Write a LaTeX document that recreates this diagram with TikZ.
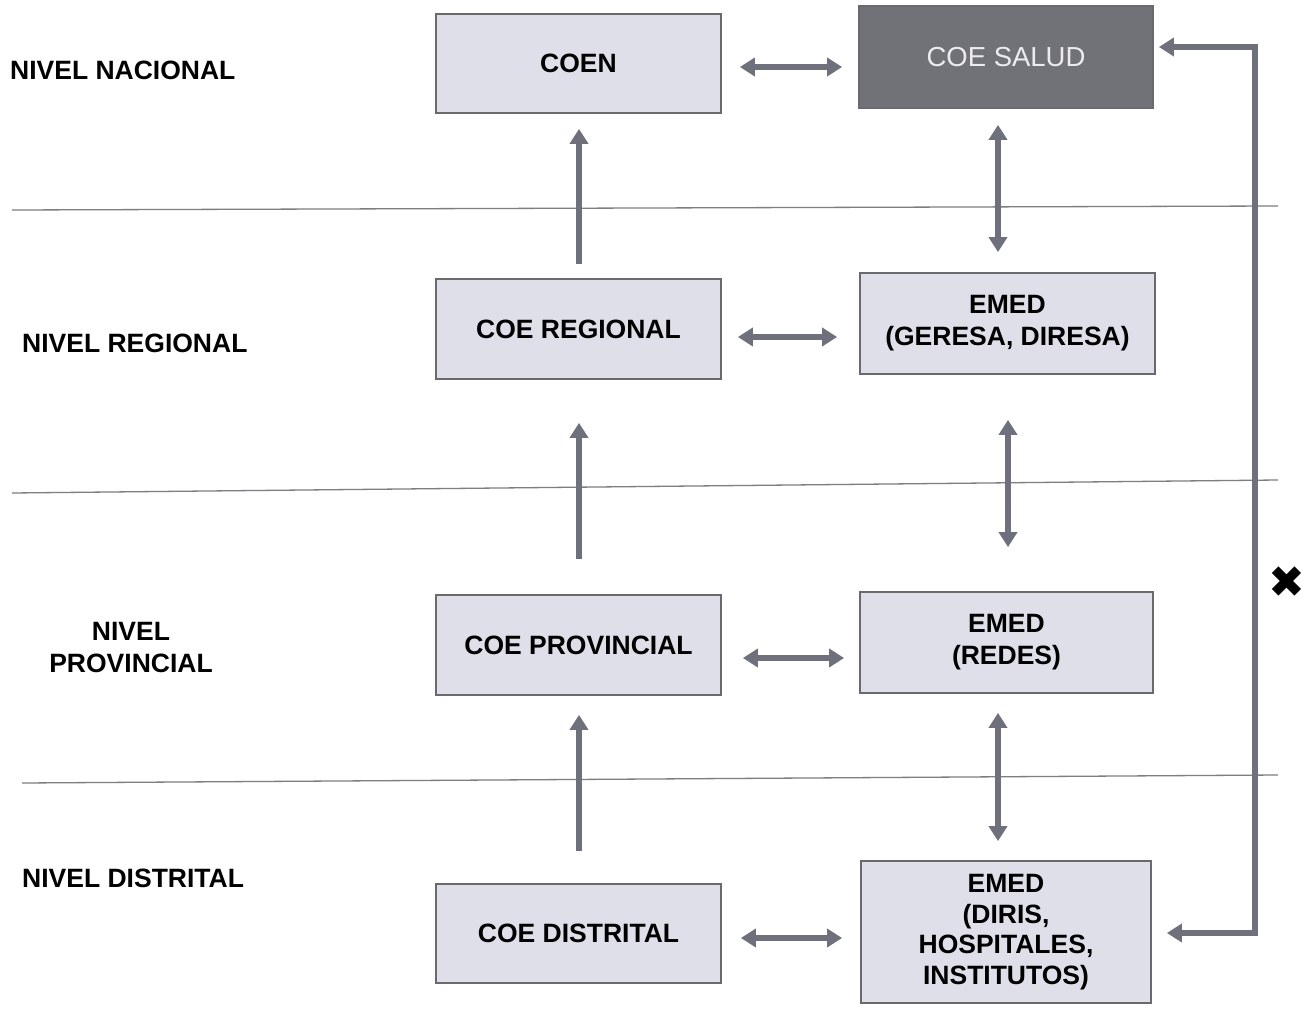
\documentclass[tikz,border=0pt]{standalone}
\usepackage{fontspec}
\setmainfont{Liberation Sans}
\newfontfamily\symfont{DejaVu Sans}
\usetikzlibrary{arrows.meta}
\definecolor{boxfill}{RGB}{222,223,232}
\definecolor{boxedge}{RGB}{105,105,110}
\definecolor{saludfill}{RGB}{112,114,120}
\definecolor{saludtext}{RGB}{236,236,238}
\definecolor{arrowcol}{RGB}{110,113,124}
\definecolor{sepcol}{RGB}{125,125,130}
\begin{document}
\begin{tikzpicture}[x=1pt,y=-1pt,
  box/.style={draw=boxedge, line width=1.8pt, fill=boxfill, inner sep=0pt,
    align=center, font=\bfseries\fontsize{26.5}{30.5}\selectfont},
  lbox/.style={box, minimum width=285pt, minimum height=99pt},
  rbox/.style={box, minimum width=294pt, minimum height=101pt},
  level/.style={font=\bfseries\fontsize{26.5}{32}\selectfont, inner sep=0pt, align=center},
  conn/.style={draw=arrowcol, line width=5.5pt, -{Triangle[length=15pt,width=18pt]}},
  dconn/.style={draw=arrowcol, line width=5.5pt, {Triangle[length=15pt,width=18pt]}-{Triangle[length=15pt,width=18pt]}},
  sep/.style={draw=sepcol, line width=1.3pt}]
\useasboundingbox (0,0) rectangle (1315,1027);
\fill[white] (0,0) rectangle (1315,1027);

% separators
\draw[sep] (12,210) -- (1278,206);
\draw[sep] (12,493) -- (1278,480);
\draw[sep] (22,783) -- (1278,775);

% level labels
\node[level, anchor=west] (lnac) at (10,70) {NIVEL NACIONAL};
\node[level, anchor=west] (lreg) at (22,343) {NIVEL REGIONAL};
\node[level] (lprov) at (131,648) {NIVEL\\PROVINCIAL};
\node[level, anchor=west] (ldist) at (22,878) {NIVEL DISTRITAL};

% left column
\node[lbox] (coen) at (578.5,63.5) {COEN};
\node[lbox, minimum height=100pt] (reg) at (578.5,329) {COE REGIONAL};
\node[lbox, minimum height=100pt] (prov) at (578.5,645) {COE PROVINCIAL};
\node[lbox] (dist) at (578.5,933.5) {COE DISTRITAL};

% right column
\node[rbox, fill=saludfill, minimum height=102pt, text=saludtext,
      font=\fontsize{27.5}{30}\selectfont] (salud) at (1006,57) {COE SALUD};
\node[rbox, minimum width=295pt, font=\bfseries\fontsize{26.5}{32}\selectfont] (geresa) at (1007.5,323.5) {EMED\\(GERESA, DIRESA)};
\node[rbox, minimum width=293pt, font=\bfseries\fontsize{26.5}{32}\selectfont] (redes) at (1006.5,642.5) {EMED\\(REDES)};
\node[rbox, minimum width=290pt, minimum height=142pt] (diris) at (1006,932)
  {EMED\\(DIRIS,\\HOSPITALES,\\INSTITUTOS)};

% upward arrows (left)
\draw[conn] ([shift={(0.5,-14)}]reg.north) -- ([shift={(0.5,15)}]coen.south);
\draw[conn] ([shift={(0.5,-35)}]prov.north) -- ([shift={(0.5,43)}]reg.south);
\draw[conn] ([shift={(0.5,-32)}]dist.north) -- ([shift={(0.5,19)}]prov.south);

% vertical double arrows (right)
\draw[dconn] ([shift={(-8,16)}]salud.south) -- ([shift={(-9.5,-20)}]geresa.north);
\draw[dconn] ([shift={(0.5,45)}]geresa.south) -- ([shift={(1.5,-44)}]redes.north);
\draw[dconn] ([shift={(-8.5,19)}]redes.south) -- ([shift={(-8,-19)}]diris.north);

% horizontal double arrows
\draw[dconn] ([shift={(18,3.5)}]coen.east) -- ([shift={(-16,10)}]salud.west);
\draw[dconn] ([shift={(16,8)}]reg.east) -- ([shift={(-22,13.5)}]geresa.west);
\draw[dconn] ([shift={(21,13)}]prov.east) -- ([shift={(-15,15.5)}]redes.west);
\draw[dconn] ([shift={(19,4.5)}]dist.east) -- ([shift={(-18,6)}]diris.west);

% right loop
\coordinate (rloop) at (1255,490);
\draw[dconn] ([shift={(5,-10)}]salud.east) -| (rloop) |- ([shift={(15,1)}]diris.east);

% x mark
\node[inner sep=0pt, font=\symfont\fontsize{44}{44}\selectfont] (xmark) at (1287,582) {✖};
\end{tikzpicture}
\end{document}
